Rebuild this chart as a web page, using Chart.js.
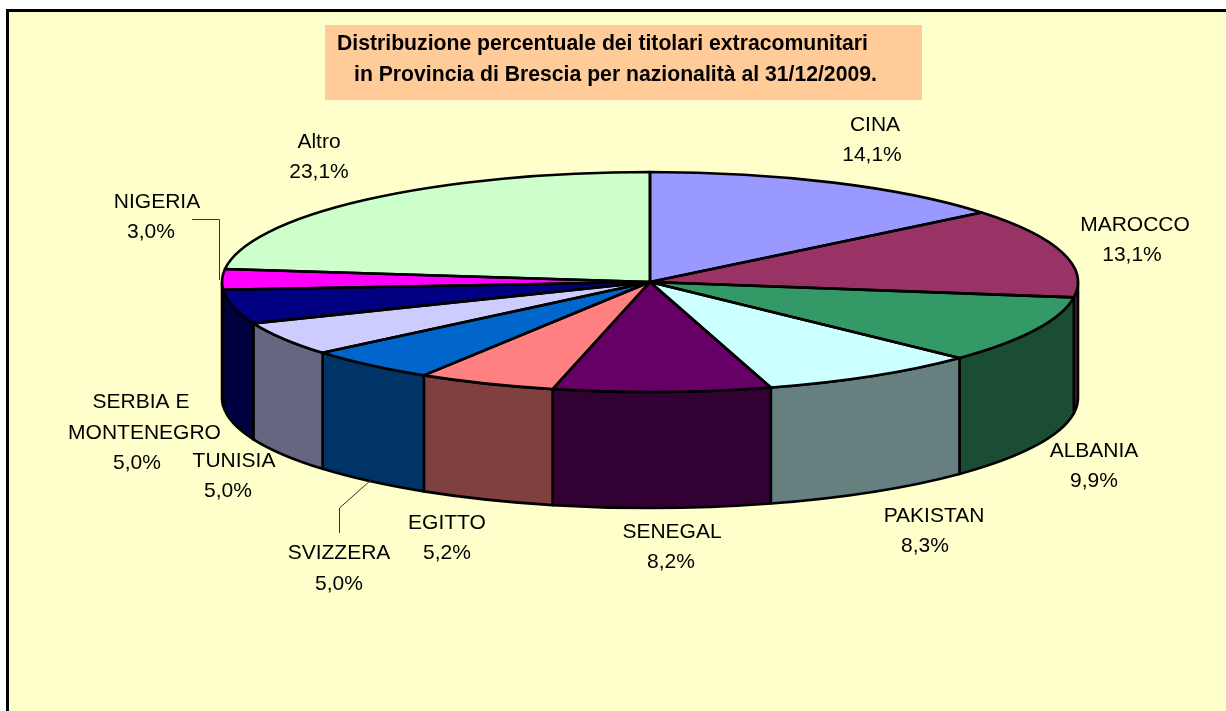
<!DOCTYPE html>
<html><head><meta charset="utf-8">
<style>html,body{margin:0;padding:0;background:#fff;overflow:hidden}canvas{display:block}</style>
<script src="https://cdn.jsdelivr.net/npm/chart.js@4"></script>
</head><body><canvas id="c" width="1226" height="711"></canvas>
<script>
const categories = ['CINA','MAROCCO','ALBANIA','PAKISTAN','SENEGAL','EGITTO','SVIZZERA','TUNISIA','SERBIA E MONTENEGRO','NIGERIA','Altro'];
const shares = [14.1,13.1,9.9,8.3,8.2,5.2,5.0,5.0,5.0,3.0,23.1];
const topColors = ['#9999FF','#993366','#339966','#CCFFFF','#660066','#FF8080','#0066CC','#CCCCFF','#000080','#FF00FF','#CCFFCC'];
const wallColors = ['#4D4D80','#4D1A33','#1A4D33','#668080','#330033','#804040','#003366','#666680','#000040','#800080','#668066'];
const titleLines = ['Distribuzione percentuale dei titolari extracomunitari','in Provincia di Brescia per nazionalità al 31/12/2009.'];
// label layout (centre of each text line)
const labelLines = [['CINA'],['MAROCCO'],['ALBANIA'],['PAKISTAN'],['SENEGAL'],['EGITTO'],['SVIZZERA'],['TUNISIA'],['SERBIA E','MONTENEGRO'],['NIGERIA'],['Altro']];
const labelAt = [[[875,125],[872,155]],[[1135,225],[1132,255]],[[1094,451],[1094,481]],[[934,516],[925,546]],[[672,532],[671,562]],[[447,523],[447,553]],[[339,553],[339,584]],[[234,461],[228,491]],[[141,402],[144.5,433],[137,463]],[[157,202],[151,232]],[[319,142],[319,172]]];
const RX=428, RY=110, DEPTH=116, LW=2.6;
const FONT='"Liberation Sans", Arial, sans-serif';

const pseudo3d = {
  id:'pseudo3d',
  beforeDraw(chart){
    const c=chart.ctx;
    c.save();
    c.fillStyle='#fff';c.fillRect(0,0,1226,711);
    c.fillStyle='#000';c.fillRect(6,9,1220,702);
    c.fillStyle='#FFFFCC';c.fillRect(9,12,1217,699);
    c.fillStyle='#FFCC99';c.fillRect(325,25,597,75);
    c.fillStyle='#000';c.font='bold 21.2px '+FONT;c.textBaseline='middle';c.textAlign='left';
    c.fillText(titleLines[0],337,44);c.fillText(titleLines[1],354,75);
    c.restore();
  },
  beforeDatasetsDraw(chart){
    const c=chart.ctx, arcs=chart.getDatasetMeta(0).data;
    const cx=arcs[0].x, cy=arcs[0].y, R=arcs[0].outerRadius;
    c.save();
    c.lineWidth=LW;c.strokeStyle='#000';c.lineJoin='round';
    arcs.forEach((a,i)=>{
      // visible front side lies between 0 and PI in canvas angles
      for(const shift of [0,2*Math.PI,-2*Math.PI]){
        const s=Math.max(a.startAngle+shift,0), e=Math.min(a.endAngle+shift,Math.PI);
        if(e<=s) continue;
        c.beginPath();
        c.ellipse(cx,cy,RX,RY,0,s,e);
        c.lineTo(cx+RX*Math.cos(e),cy+RY*Math.sin(e)+DEPTH);
        c.ellipse(cx,cy+DEPTH,RX,RY,0,e,s,true);
        c.closePath();
        c.fillStyle=wallColors[i];c.fill();c.stroke();
      }
    });
    c.restore();
    c.save();
    c.translate(cx,cy);c.scale(RX/R,RY/R);c.translate(-cx,-cy);
  },
  afterDatasetsDraw(chart){
    const c=chart.ctx, arcs=chart.getDatasetMeta(0).data;
    c.restore();
    const cx=arcs[0].x, cy=arcs[0].y;
    c.save();
    c.lineWidth=LW;c.strokeStyle='#000';c.lineJoin='round';
    arcs.forEach(a=>{
      c.beginPath();
      c.moveTo(cx,cy);
      c.ellipse(cx,cy,RX,RY,0,a.startAngle,a.endAngle);
      c.closePath();c.stroke();
    });
    // leader lines
    c.lineWidth=1;c.strokeStyle='#333';
    c.beginPath();c.moveTo(192,219.5);c.lineTo(219.5,219.5);c.lineTo(219.5,280);c.stroke();
    c.beginPath();c.moveTo(371,480);c.lineTo(339.5,508);c.lineTo(339.5,533);c.stroke();
    // labels
    c.fillStyle='#000';c.font='21px '+FONT;c.textAlign='center';c.textBaseline='middle';
    categories.forEach((n,i)=>{
      const lines=[...labelLines[i],shares[i].toFixed(1).replace('.',',')+'%'];
      lines.forEach((t,j)=>c.fillText(t,labelAt[i][j][0],labelAt[i][j][1]));
    });
    c.restore();
  }
};

new Chart(document.getElementById('c'),{
  type:'pie',
  data:{labels:categories,datasets:[{data:shares,backgroundColor:topColors,borderWidth:0,clip:false}]},
  options:{
    responsive:false,animation:false,events:[],
    layout:{padding:{left:74,right:0,top:0,bottom:147}},
    plugins:{legend:{display:false},tooltip:{enabled:false},title:{display:false}}
  },
  plugins:[pseudo3d]
});
</script></body></html>
